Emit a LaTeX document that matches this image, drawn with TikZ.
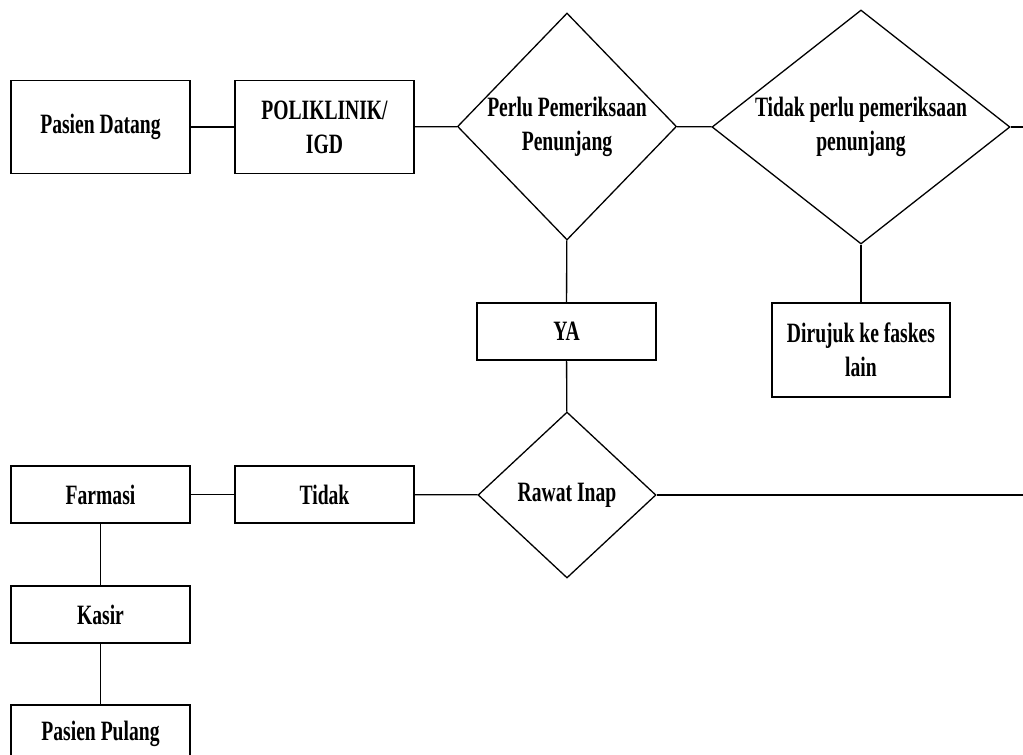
\documentclass[tikz,border=0pt]{standalone}
\usepackage{fontspec}
\setmainfont{Liberation Serif}[FakeStretch=0.70]
\usetikzlibrary{shapes.geometric}

\begin{document}
\begin{tikzpicture}
[x=1pt,y=-1pt,
  lineDecorate/.style={-,line width=1.3pt},%
  boxDecorate/.style={shape=rectangle,draw,line width=1.3pt,align=center,
    minimum width=179pt,minimum height=57pt,inner sep=0pt},%
  tallBoxDecorate/.style={boxDecorate,minimum height=93pt},%
  choiceDecorate/.style={shape=diamond,draw,line width=1.3pt,align=center,inner sep=0pt},%
  font=\fontsize{28}{34}\selectfont\bfseries]
\useasboundingbox (0,0) rectangle (1023,755);
\clip (0,0) rectangle (1023,755);
%% top row
\node (datang) at (100.5,127) [tallBoxDecorate] {Pasien Datang};
\node (poli) at (324.5,127) [tallBoxDecorate] {POLIKLINIK/\\IGD};
\node (perlu) at (567,126.5) [choiceDecorate,minimum width=216pt,minimum height=227pt]
  {Perlu Pemeriksaan\\Penunjang};
\node (tidakPerlu) at (861,127) [choiceDecorate,aspect=1.27,minimum width=298pt,minimum height=234pt]
  {Tidak perlu pemeriksaan\\penunjang};
\coordinate (ujungAtas) at (1023,127);
%% middle
\node (ya) at (566.5,331.5) [boxDecorate] {YA};
\node (rujuk) at (861,350) [boxDecorate,minimum width=178pt,minimum height=94pt]
  {Dirujuk ke faskes\\lain};
%% bottom rows
\node (rawat) at (567,495) [choiceDecorate,minimum width=178pt,minimum height=166pt] {Rawat Inap};
\coordinate (ujungBawah) at (1023,495);
\node (tidak) at (324.5,494.5) [boxDecorate] {Tidak};
\node (farmasi) at (100.5,494.5) [boxDecorate] {Farmasi};
\node (kasir) at (100.5,614.5) [boxDecorate] {Kasir};
\node (pulang) at (100.5,733.5) [boxDecorate] {Pasien Pulang};
%% lines
\path
\foreach \startnode/\endnode in {datang/poli, poli/perlu, perlu/tidakPerlu,
  tidakPerlu/ujungAtas, perlu/ya, tidakPerlu/rujuk, ya/rawat, rawat/ujungBawah,
  rawat/tidak, tidak/farmasi, farmasi/kasir, kasir/pulang}
{
  (\startnode) edge[lineDecorate] (\endnode)
};
\end{tikzpicture}
\end{document}
